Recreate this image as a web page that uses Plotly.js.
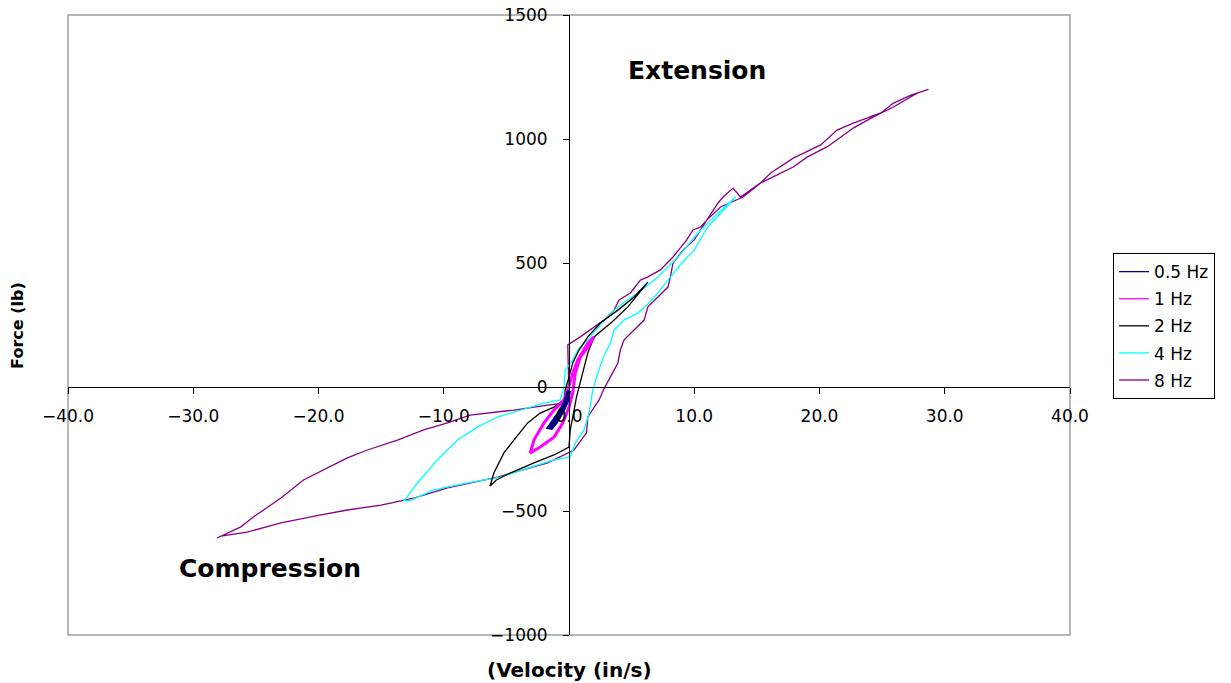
<!DOCTYPE html>
<html>
<head>
<meta charset="utf-8">
<script src="https://cdn.plot.ly/plotly-3.0.1.min.js"></script>
<style>html,body{margin:0;padding:0;background:#fff;}#chart{width:1231px;height:683px;}</style>
</head>
<body>
<div id="chart"></div>
<script>
// ---- Data (velocity in/s, force lb) ----
var seriesNames = ["0.5 Hz", "1 Hz", "2 Hz", "4 Hz", "8 Hz"];

var vel05 = [0.0, -0.3, -0.8, -1.3, -1.6, -1.4, -1.0, -0.5, -0.1, 0.0];
var force05 = [-15, -60, -105, -145, -163, -165, -140, -95, -50, -15];

var vel1 = [2.0, 1.5, 0.9, 0.5, 0.3, 0.0, -0.5, -1.2, -2.3, -2.9, -3.1, -2.8, -2.0, -1.2, -0.4, -0.1, 0.3, 0.7, 1.5, 2.0];
var force1 = [202, 160, 121, 56, -24, -81, -145, -202, -242, -262, -266, -214, -145, -93, -52, -12, 56, 109, 177, 202];

var vel2 = [6.3, 4.7, 3.5, 2.0, 1.5, 1.1, 0.8, 0.6, 0.3, 0.1, 0.0, -1.2, -2.8, -4.7, -5.8, -6.3, -6.0, -5.2, -4.4, -3.3, -2.3, -1.2, -0.4, -0.3, 0.0, 0.3, 0.8, 1.5, 2.5, 3.9, 5.2, 6.3];
var force2 = [423, 323, 265, 202, 137, 56, -12, -40, -121, -173, -242, -274, -306, -347, -375, -399, -347, -266, -214, -145, -105, -81, -52, -12, 40, 97, 149, 202, 258, 310, 363, 423];

var vel4 = [13.3, 12.1, 11.0, 10.0, 9.0, 8.1, 7.1, 6.2, 5.5, 4.4, 3.6, 3.3, 2.75, 2.3, 1.9, 1.6, 1.2, 0.5, 0.1, -1.2, -3.3, -5.5, -8.1, -10.8, -12.6, -13.2, -11.9, -10.3, -8.9, -7.3, -5.7, -3.9, -2.0, -0.7, -0.4, -0.3, 0.3, 0.7, 1.7, 2.6, 3.6, 4.5, 5.5, 7.1, 8.7, 10.3, 11.9, 13.3];
var force4 = [766, 702, 640, 552, 500, 444, 379, 330, 298, 270, 230, 177, 121, 56, -12, -105, -173, -226, -282, -294, -327, -363, -387, -415, -456, -460, -375, -282, -214, -161, -121, -93, -65, -52, 0, 69, 109, 149, 202, 258, 310, 345, 379, 444, 524, 621, 702, 766];

var vel8 = [28.7, 27.8, 25.9, 24.3, 22.7, 21.9, 20.6, 19.0, 17.9, 16.3, 15.3, 13.9, 12.1, 11.0, 10.0, 9.1, 8.3, 8.1, 7.9, 7.1, 6.3, 6.0, 5.2, 4.4, 4.1, 3.9, 3.3, 2.75, 2.4, 1.5, 1.4, 0.4, -1.7, -5.7, -9.7, -12.4, -15.0, -17.7, -19.8, -23.0, -25.7, -27.8, -28.1,
            -26.2, -25.2, -23.0, -21.2, -19.6, -17.7, -16.1, -13.7, -11.6, -9.7, -7.9, -4.4, -1.7, -0.4, 0.0, -0.1, 0.9, 2.0, 2.8, 3.6, 4.0, 4.9, 5.7, 6.3, 7.3, 8.3, 9.4, 9.9, 10.5, 11.0, 11.9, 12.3, 13.1, 13.7, 15.3, 16.1, 17.9, 20.1, 21.4, 22.7, 24.9, 25.9, 27.3, 28.7];
var force8 = [1200, 1185, 1129, 1089, 1044, 1016, 968, 927, 887, 847, 823, 766, 726, 673, 593, 552, 500, 444, 403, 363, 323, 270, 230, 190, 149, 97, 40, -12, -52, -121, -185, -254, -306, -363, -407, -448, -476, -496, -516, -548, -585, -601, -609,
              -564, -524, -448, -375, -335, -286, -254, -214, -173, -145, -113, -93, -73, -65, -30, 170, 202, 242, 270, 310, 351, 379, 431, 444, 472, 524, 593, 633, 645, 673, 742, 766, 802, 766, 823, 863, 923, 976, 1036, 1064, 1105, 1145, 1177, 1200];

var seriesColors = ["#000080", "#FF00FF", "#000000", "#00FFFF", "#880088"];
var seriesWidths = [4, 3, 1.3, 1.3, 1.3];

var xData = [vel05, vel1, vel2, vel4, vel8];
var yData = [force05, force1, force2, force4, force8];

var traces = [];
// data traces (drawn slowest-frequency last so the thick loops stay visible)
for (var i = xData.length - 1; i >= 0; i--) {
  traces.push({
    type: "scatter", mode: "lines",
    x: xData[i], y: yData[i],
    name: seriesNames[i],
    showlegend: false,
    line: {color: seriesColors[i], width: seriesWidths[i]},
    hoverinfo: "x+y+name"
  });
}
// legend entries (thin key lines as in the reference)
for (var j = 0; j < seriesNames.length; j++) {
  traces.push({
    type: "scatter", mode: "lines",
    x: [null], y: [null],
    name: seriesNames[j],
    legendgroup: "g" + j,
    legendrank: j + 1,
    showlegend: true,
    line: {color: seriesColors[j], width: 1.3},
    hoverinfo: "skip"
  });
}

var tickFont = {family: "DejaVu Sans, Arial, sans-serif", size: 17, color: "#000"};

var layout = {
  width: 1231,
  height: 683,
  margin: {l: 68, r: 161, t: 15, b: 48, pad: 0},
  paper_bgcolor: "#fff",
  plot_bgcolor: "#fff",
  showlegend: true,
  legend: {
    x: 1.043, y: 0.616, xanchor: "left", yanchor: "top",
    bordercolor: "#000", borderwidth: 1, bgcolor: "#fff",
    traceorder: "grouped", tracegroupgap: 2,
    font: {family: "DejaVu Sans, Arial, sans-serif", size: 17, color: "#000"}
  },
  xaxis: {
    range: [-40, 40], tick0: -40, dtick: 10, tickformat: ".1f",
    showgrid: false, zeroline: false, showline: true, linecolor: "#000", linewidth: 1.2,
    ticks: "outside", ticklen: 6, tickcolor: "#000", tickwidth: 1,
    anchor: "free", position: 0.4, ticklabelstandoff: 7,
    tickfont: tickFont, fixedrange: true
  },
  yaxis: {
    range: [-1000, 1500], tick0: -1000, dtick: 500,
    showgrid: false, zeroline: false, showline: true, linecolor: "#000", linewidth: 1.2,
    ticks: "outside", ticklen: 6, tickcolor: "#000", tickwidth: 1,
    anchor: "free", position: 0.5, ticklabelstandoff: 12,
    tickfont: tickFont, fixedrange: true
  },
  shapes: [{
    type: "rect", xref: "paper", yref: "paper", x0: 0, x1: 1, y0: 0, y1: 1,
    line: {color: "#a0a0a0", width: 1.5}, layer: "below"
  }],
  annotations: [
    {text: "Extension", x: 10.2, y: 1278, xref: "x", yref: "y", showarrow: false,
     font: {family: "DejaVu Sans, Arial, sans-serif", size: 25, color: "#000", weight: "bold"}},
    {text: "Compression", x: -23.9, y: -730, xref: "x", yref: "y", showarrow: false,
     font: {family: "DejaVu Sans, Arial, sans-serif", size: 25, color: "#000", weight: "bold"}},
    {text: "<b>(Velocity (in/s)</b>", x: 0.5, y: -0.056, xref: "paper", yref: "paper",
     xanchor: "center", yanchor: "middle", showarrow: false,
     font: {family: "DejaVu Sans, Arial, sans-serif", size: 20, color: "#000"}},
    {text: "<b>Force (lb)</b>", x: -0.051, y: 0.5, xref: "paper", yref: "paper",
     xanchor: "center", yanchor: "middle", textangle: -90, showarrow: false,
     font: {family: "DejaVu Sans, Arial, sans-serif", size: 16, color: "#000"}}
  ]
};

Plotly.newPlot("chart", traces, layout, {staticPlot: true, displayModeBar: false});
</script>
</body>
</html>
